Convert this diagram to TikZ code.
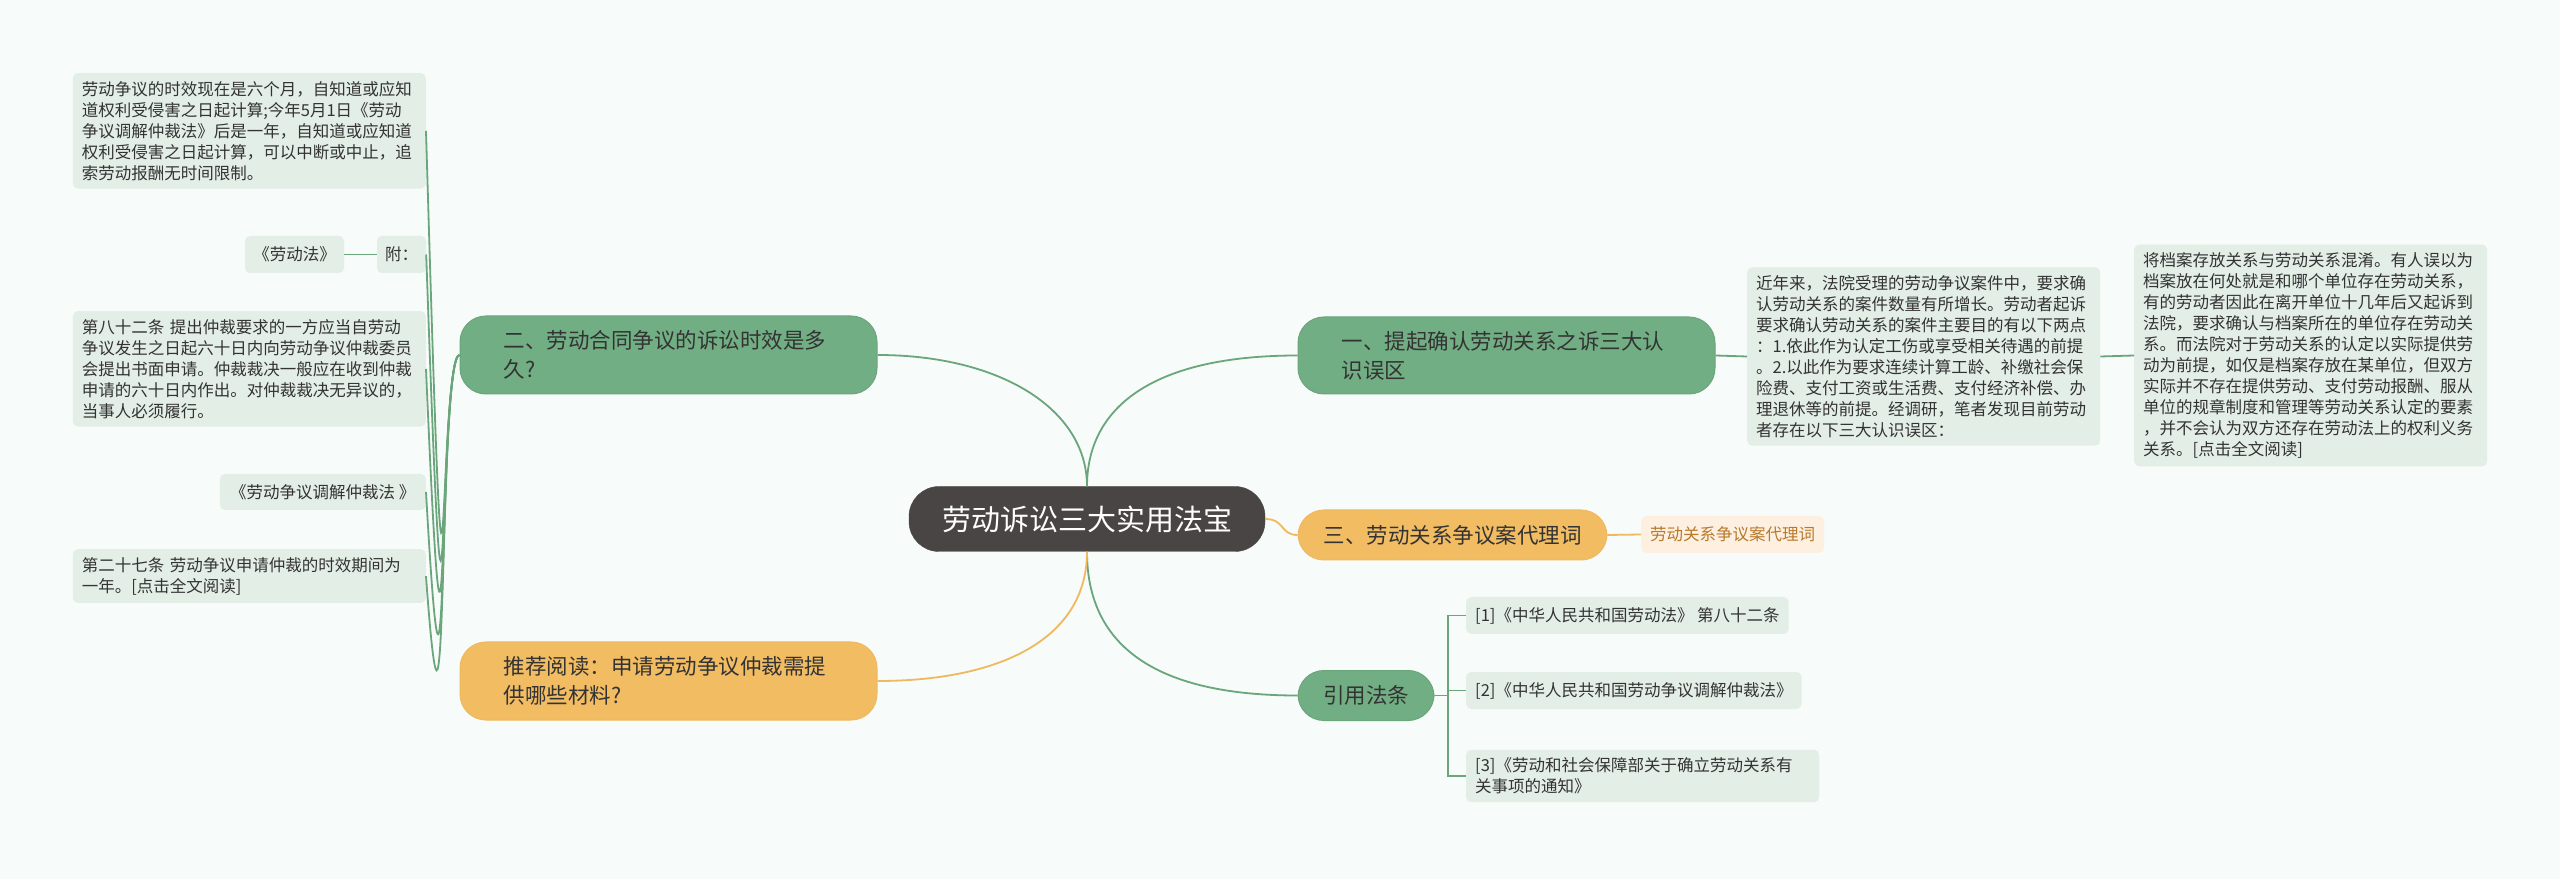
\documentclass[tikz,border=0pt]{standalone}
\usepackage{fontspec}
\newfontfamily\cjk{Noto Sans CJK SC}
\definecolor{bgc}{HTML}{F7FBF9}
\definecolor{leafc}{HTML}{E3EEE6}
\definecolor{greenc}{HTML}{72AE84}
\definecolor{linec}{HTML}{6AA57C}
\definecolor{orangec}{HTML}{F2BC63}
\definecolor{orline}{HTML}{EFB95F}
\definecolor{centerc}{HTML}{4A4545}
\definecolor{txt}{HTML}{333333}
\definecolor{peach}{HTML}{FDF0E1}
\definecolor{brownt}{HTML}{B9782A}
\tikzset{
 leaf/.style={fill=leafc, rounded corners=5pt, align=left, inner xsep=9pt, inner ysep=8pt, text=txt, font=\cjk\fontsize{16.5}{21}\selectfont},
 topic/.style={fill=greenc, draw=linec, line width=1pt, rounded corners=26pt, text=txt, font=\cjk\fontsize{21.5}{29}\selectfont, inner sep=0pt},
 otopic/.style={topic, fill=orangec, draw=orline},
 gl/.style={draw=linec, line width=1.8pt},
 ol/.style={draw=orline, line width=1.8pt},
}
\begin{document}
\begin{tikzpicture}[x=1pt,y=1pt]
\fill[bgc] (0,0) rectangle (2560,879);
\useasboundingbox (0,0) rectangle (2560,879);
% center
\node[fill=centerc, rounded corners=30pt, text=white, font=\cjk\fontsize{29}{34}\selectfont, minimum width=356pt, minimum height=65pt, draw=centerc] (c) at (1087,360) {劳动诉讼三大实用法宝};
% topics
\node[topic, minimum width=417pt, minimum height=78pt, align=left, text width=330pt] (t2) at (668.5,524) {二、劳动合同争议的诉讼时效是多\\久?};
\node[otopic, minimum width=417pt, minimum height=78pt, align=left, text width=330pt] (tr) at (668.5,198) {推荐阅读：申请劳动争议仲裁需提\\供哪些材料?};
\node[topic, minimum width=417pt, minimum height=77pt, align=left, text width=330pt] (t1) at (1506.5,523.5) {一、提起确认劳动关系之诉三大认\\识误区};
\node[otopic, minimum width=309pt, minimum height=50pt] (t3) at (1452.5,344) {三、劳动关系争议案代理词};
\node[topic, minimum width=136pt, minimum height=50pt] (ty) at (1366,183.5) {引用法条};
% left leaves
\node[leaf, anchor=north east, text width=335pt] (l1) at (426,806) {劳动争议的时效现在是六个月，自知道或应知\\道权利受侵害之日起计算;今年5月1日《劳动\\争议调解仲裁法》后是一年，自知道或应知道\\权利受侵害之日起计算，可以中断或中止，追\\索劳动报酬无时间限制。};
\node[leaf, minimum width=49pt, minimum height=37pt, inner xsep=4pt] (l2) at (401.5,624.5) {附：};
\node[leaf, minimum width=99pt, minimum height=37pt, inner xsep=4pt] (l2a) at (294.5,624.5) {《劳动法》};
\node[leaf, anchor=north east, text width=335pt] (l3) at (426,568) {第八十二条 提出仲裁要求的一方应当自劳动\\争议发生之日起六十日内向劳动争议仲裁委员\\会提出书面申请。仲裁裁决一般应在收到仲裁\\申请的六十日内作出。对仲裁裁决无异议的，\\当事人必须履行。};
\node[leaf, anchor=east, minimum width=206pt, minimum height=36pt] (l4) at (426,387) {《劳动争议调解仲裁法 》};
\node[leaf, anchor=north east, text width=335pt] (l5) at (426,330) {第二十七条 劳动争议申请仲裁的时效期间为\\一年。[点击全文阅读]};
% right leaves
\node[leaf, anchor=west, text width=335pt] (r1) at (1747,522.5) {近年来，法院受理的劳动争议案件中，要求确\\认劳动关系的案件数量有所增长。劳动者起诉\\要求确认劳动关系的案件主要目的有以下两点\\：1.依此作为认定工伤或享受相关待遇的前提\\。2.以此作为要求连续计算工龄、补缴社会保\\险费、支付工资或生活费、支付经济补偿、办\\理退休等的前提。经调研，笔者发现目前劳动\\者存在以下三大认识误区：};
\node[leaf, anchor=west, text width=335pt] (r2) at (2134,523.5) {将档案存放关系与劳动关系混淆。有人误以为\\档案放在何处就是和哪个单位存在劳动关系，\\有的劳动者因此在离开单位十几年后又起诉到\\法院，要求确认与档案所在的单位存在劳动关\\系。而法院对于劳动关系的认定以实际提供劳\\动为前提，如仅是档案存放在某单位，但双方\\实际并不存在提供劳动、支付劳动报酬、服从\\单位的规章制度和管理等劳动关系认定的要素\\，并不会认为双方还存在劳动法上的权利义务\\关系。[点击全文阅读]};
\node[leaf, fill=peach, text=brownt, anchor=west, minimum height=37pt] (r3) at (1641,344.5) {劳动关系争议案代理词};
\node[leaf, anchor=west, minimum height=37pt] (y1) at (1466,263.5) {[1]《中华人民共和国劳动法》 第八十二条};
\node[leaf, anchor=west, minimum height=37pt] (y2) at (1466,188.5) {[2]《中华人民共和国劳动争议调解仲裁法》};
\node[leaf, anchor=west, text width=335pt] (y3) at (1466,103) {[3]《劳动和社会保障部关于确立劳动关系有\\关事项的通知》};
% connectors center
\draw[gl] (c.north) .. controls (1087,470) and (1150,523.5) .. (t1.west);
\draw[gl] (c.north) .. controls (1087,470) and (1000,524) .. (t2.east);
\draw[ol] (c.east) .. controls (1285,360) and (1280,344) .. (t3.west);
\draw[gl] (c.south) .. controls (1087,230) and (1160,183.5) .. (ty.west);
\draw[ol] (c.south) .. controls (1087,240) and (1000,198) .. (tr.east);
% left leaves
\foreach \n in {l1,l2,l3,l4,l5}
  \draw[gl] (t2.west) .. controls (438,524) and (448,{0}) .. (\n.east) ;
\draw[gl] (l2.west) -- (l2a.east);
% right
\draw[gl] (t1.east) -- (r1.west);
\draw[gl] (r1.east) -- (r2.west);
\draw[ol] (t3.east) -- (r3.west);
\foreach \n in {y1,y2,y3}
  \draw[gl] (ty.east) .. controls (1452,183.5) and (1448,183.5) .. (1448,183.5) |- (\n.west);
\end{tikzpicture}
\end{document}
